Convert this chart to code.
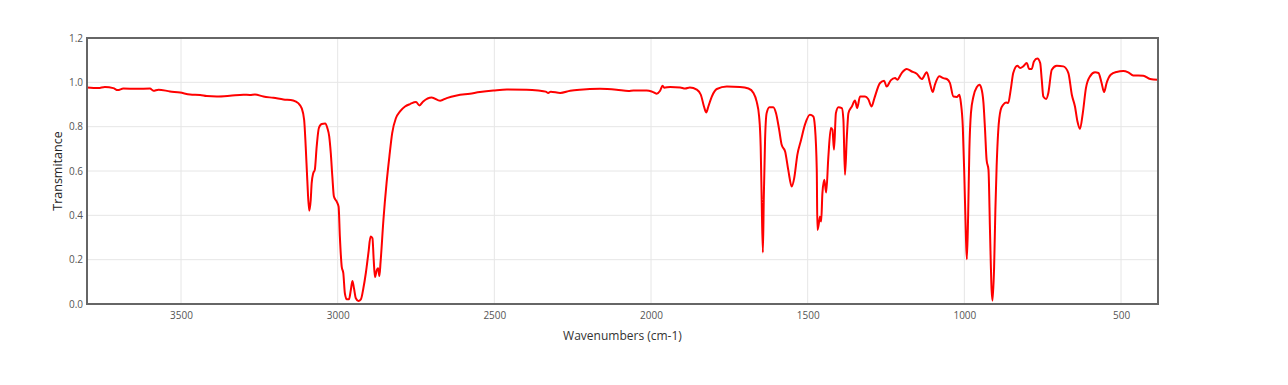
<!DOCTYPE html>
<html>
<head>
<meta charset="utf-8">
<script src="https://cdn.jsdelivr.net/npm/d3@7"></script>
<style>
  body { margin: 0; background: #fff; }
  text { font-family: 'Open Sans', sans-serif; }
</style>
</head>
<body>
<div id="chart"></div>
<script>
// IR spectrum (wavenumber in cm-1, transmittance)
var wavenumbers = [3800, 3764, 3743, 3716, 3702, 3684, 3641, 3599, 3588, 3572, 3535, 3503, 3471, 3439, 3418, 3386, 3344, 3301, 3280, 3264, 3237, 3205, 3173, 3142, 3126, 3115, 3107, 3102, 3097, 3091, 3086, 3083, 3078, 3073, 3067, 3060, 3051, 3040, 3033, 3027, 3022, 3017, 3012, 3003, 2997, 2993, 2987, 2982, 2977, 2971, 2964, 2958, 2953, 2948, 2942, 2934, 2926, 2918, 2910, 2902, 2895, 2889, 2885, 2881, 2875, 2871, 2867, 2863, 2854, 2844, 2835, 2826, 2814, 2801, 2785, 2769, 2750, 2739, 2727, 2700, 2673, 2652, 2620, 2578, 2546, 2503, 2460, 2397, 2360, 2336, 2328, 2320, 2290, 2258, 2227, 2163, 2110, 2072, 2056, 2014, 1998, 1982, 1971, 1963, 1958, 1939, 1907, 1891, 1876, 1854, 1841, 1831, 1824, 1817, 1806, 1790, 1758, 1716, 1689, 1673, 1663, 1655, 1650, 1647, 1643, 1640, 1636, 1631, 1622, 1610, 1601, 1591, 1583, 1572, 1562, 1551, 1543, 1533, 1521, 1509, 1493, 1482, 1477, 1471, 1469, 1465, 1461, 1457, 1453, 1447, 1441, 1434, 1426, 1421, 1416, 1410, 1402, 1391, 1386, 1381, 1375, 1370, 1359, 1349, 1342, 1333, 1317, 1307, 1296, 1287, 1269, 1256, 1248, 1235, 1221, 1214, 1200, 1184, 1168, 1152, 1136, 1120, 1110, 1101, 1094, 1080, 1067, 1056, 1046, 1035, 1024, 1016, 1011, 1005, 1000, 995, 992, 988, 984, 979, 971, 960, 952, 946, 939, 934, 929, 923, 918, 913, 910, 905, 901, 897, 892, 884, 876, 867, 860, 852, 844, 831, 822, 812, 801, 793, 785, 778, 767, 758, 753, 748, 739, 732, 721, 705, 684, 668, 657, 647, 639, 631, 622, 612, 599, 583, 572, 562, 554, 546, 533, 514, 493, 477, 461, 429, 407, 383]

var transmittance = [0.977, 0.974, 0.979, 0.974, 0.965, 0.972, 0.971, 0.972, 0.962, 0.967, 0.959, 0.954, 0.945, 0.943, 0.938, 0.936, 0.939, 0.944, 0.943, 0.945, 0.936, 0.930, 0.923, 0.918, 0.906, 0.884, 0.831, 0.710, 0.560, 0.421, 0.470, 0.545, 0.590, 0.605, 0.710, 0.794, 0.812, 0.814, 0.794, 0.756, 0.681, 0.575, 0.485, 0.462, 0.439, 0.304, 0.168, 0.139, 0.048, 0.021, 0.021, 0.063, 0.104, 0.071, 0.026, 0.014, 0.021, 0.071, 0.141, 0.229, 0.304, 0.297, 0.199, 0.121, 0.154, 0.161, 0.126, 0.191, 0.379, 0.545, 0.665, 0.771, 0.839, 0.869, 0.891, 0.902, 0.911, 0.896, 0.914, 0.932, 0.917, 0.929, 0.941, 0.949, 0.956, 0.963, 0.968, 0.967, 0.963, 0.958, 0.952, 0.958, 0.952, 0.962, 0.967, 0.971, 0.967, 0.961, 0.963, 0.963, 0.959, 0.949, 0.962, 0.985, 0.976, 0.979, 0.977, 0.972, 0.977, 0.967, 0.944, 0.891, 0.864, 0.891, 0.936, 0.970, 0.981, 0.979, 0.972, 0.952, 0.914, 0.846, 0.710, 0.485, 0.232, 0.485, 0.741, 0.861, 0.888, 0.888, 0.861, 0.786, 0.718, 0.688, 0.605, 0.530, 0.568, 0.673, 0.741, 0.808, 0.854, 0.846, 0.801, 0.605, 0.334, 0.357, 0.394, 0.372, 0.500, 0.560, 0.503, 0.665, 0.794, 0.786, 0.696, 0.861, 0.888, 0.884, 0.831, 0.583, 0.756, 0.861, 0.891, 0.918, 0.884, 0.936, 0.936, 0.925, 0.891, 0.929, 0.997, 1.007, 0.981, 1.009, 1.019, 1.012, 1.042, 1.060, 1.049, 1.039, 1.015, 1.045, 0.997, 0.956, 0.989, 1.027, 1.019, 1.015, 0.997, 0.936, 0.934, 0.944, 0.907, 0.801, 0.575, 0.304, 0.202, 0.394, 0.696, 0.861, 0.936, 0.979, 0.989, 0.974, 0.907, 0.786, 0.650, 0.605, 0.319, 0.063, 0.015, 0.168, 0.425, 0.620, 0.778, 0.876, 0.899, 0.909, 0.907, 0.967, 1.042, 1.075, 1.065, 1.072, 1.087, 1.060, 1.060, 1.094, 1.107, 1.087, 1.012, 0.936, 0.925, 0.952, 1.057, 1.075, 1.072, 1.042, 0.944, 0.891, 0.823, 0.790, 0.861, 0.974, 1.027, 1.045, 1.042, 0.997, 0.956, 0.997, 1.034, 1.047, 1.051, 1.045, 1.031, 1.030, 1.015, 1.012]

var xTicks = [3500, 3000, 2500, 2000, 1500, 1000, 500]
var yTicks = [0, 0.2, 0.4, 0.6, 0.8, 1.0, 1.2]

var points = wavenumbers.map(function(w, i) {
  return { wn: w, t: transmittance[i] }
})

// Set up margin/height/width
var margin = { top: 38, left: 87, right: 130, bottom: 81 }
var width = 1288 - margin.left - margin.right
var height = 385 - margin.top - margin.bottom

var svg = d3
  .select('#chart')
  .append('svg')
  .attr('width', 1288)
  .attr('height', 385)

var g = svg
  .append('g')
  .attr('transform', 'translate(' + margin.left + ',' + margin.top + ')')

// wavenumbers run right to left
var xPositionScale = d3
  .scaleLinear()
  .domain([3800, 382])
  .range([0, width])

var yPositionScale = d3
  .scaleLinear()
  .domain([0, 1.2])
  .range([height, 0])

// Grid lines
g.append('g')
  .selectAll('line')
  .data(xTicks)
  .enter()
  .append('line')
  .attr('x1', d => xPositionScale(d))
  .attr('x2', d => xPositionScale(d))
  .attr('y1', 0)
  .attr('y2', height)
  .attr('stroke', '#e6e6e6')
  .attr('stroke-width', 1)

g.append('g')
  .selectAll('line')
  .data(yTicks)
  .enter()
  .append('line')
  .attr('x1', 0)
  .attr('x2', width)
  .attr('y1', d => yPositionScale(d))
  .attr('y2', d => yPositionScale(d))
  .attr('stroke', '#e6e6e6')
  .attr('stroke-width', 1)

// Spectrum line
var line = d3
  .line()
  .x(d => xPositionScale(d.wn))
  .y(d => yPositionScale(d.t))
  .curve(d3.curveMonotoneX)

g.append('path')
  .datum(points)
  .attr('d', line)
  .attr('fill', 'none')
  .attr('stroke', '#ff0000')
  .attr('stroke-width', 2)
  .attr('stroke-linejoin', 'round')

// Frame
g.append('rect')
  .attr('x', 0)
  .attr('y', 0)
  .attr('width', width)
  .attr('height', height)
  .attr('fill', 'none')
  .attr('stroke', '#666')
  .attr('stroke-width', 2)

// Axes
var xAxis = d3
  .axisBottom(xPositionScale)
  .tickValues(xTicks)
  .tickSize(0)
  .tickPadding(8)
  .tickFormat(d3.format('d'))
g.append('g')
  .attr('class', 'axis x-axis')
  .attr('transform', 'translate(0,' + height + ')')
  .call(xAxis)

var yAxis = d3
  .axisLeft(yPositionScale)
  .tickValues(yTicks)
  .tickSize(0)
  .tickPadding(4)
  .tickFormat(d3.format('.1f'))
g.append('g')
  .attr('class', 'axis y-axis')
  .call(yAxis)

g.selectAll('.axis .domain').remove()
g.selectAll('.axis text')
  .attr('font-family', "'Open Sans', sans-serif")
  .attr('font-size', 10)
  .attr('fill', '#555')

// Axis titles
svg
  .append('text')
  .text('Wavenumbers (cm-1)')
  .attr('x', margin.left + width / 2)
  .attr('y', 340)
  .attr('text-anchor', 'middle')
  .attr('font-size', 12)
  .attr('fill', '#333')

svg
  .append('text')
  .text('Transmitance')
  .attr('transform', 'translate(62,' + (margin.top + height / 2) + ') rotate(-90)')
  .attr('text-anchor', 'middle')
  .attr('font-size', 12.5)
  .attr('fill', '#222')
</script>
</body>
</html>
